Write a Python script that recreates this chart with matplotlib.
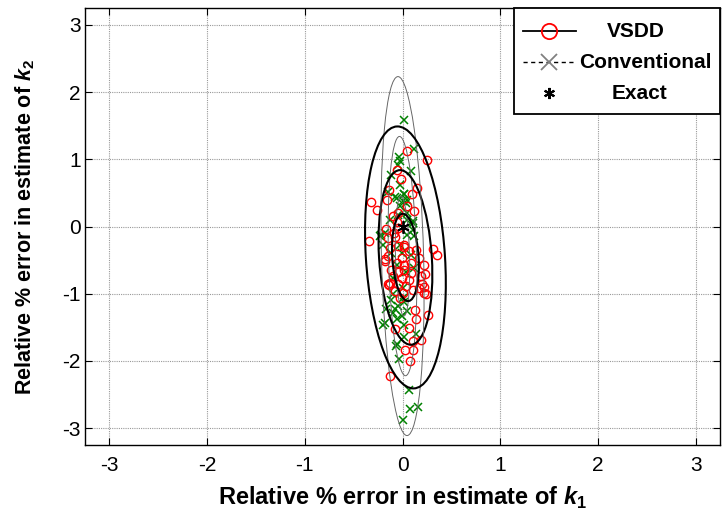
import matplotlib
matplotlib.use("Agg")
import matplotlib.pyplot as plt
from matplotlib.patches import Ellipse
from matplotlib.lines import Line2D

plt.rcParams["font.family"] = ["Liberation Sans", "DejaVu Sans"]
plt.rcParams["axes.unicode_minus"] = False
plt.rcParams["mathtext.fontset"] = "custom"
plt.rcParams["mathtext.rm"] = "Liberation Sans:bold"
plt.rcParams["mathtext.bf"] = "Liberation Sans:bold"
plt.rcParams["mathtext.bfit"] = "Liberation Sans:italic:bold"

# ---------------------------------------------------------------------------
# data
# ---------------------------------------------------------------------------
vsdd_x = [0.05, 0.25, -0.06, -0.02, -0.14, -0.16, 0.15, 0.10, -0.32, -0.26,
          0.12, -0.34, 0.31, 0.35, 0.22, 0.23, 0.20, -0.15, 0.22, -0.13,
          -0.18, -0.14, 0.22, 0.24, 0.13, 0.14, 0.26, -0.08, 0.07, 0.11,
          0.19, 0.03, 0.11, 0.08, -0.13, 0.05, -0.05, -0.10, -0.06, -0.17,
          -0.15, -0.05, 0.02, 0.07, 0.14, 0.17, -0.01, -0.06, 0.02, 0.09,
          -0.18, -0.08, -0.05, -0.15, -0.12, -0.05, 0.02, 0.09, -0.10, -0.01,
          0.07, -0.13, -0.05, 0.04, -0.08, 0.00, 0.11, -0.03, 0.19, 0.17,
          0.02, -0.09]
vsdd_y = [1.12, 0.99, 0.84, 0.70, 0.54, 0.40, 0.58, 0.49, 0.36, 0.25,
          0.23, -0.21, -0.33, -0.42, -0.57, -0.71, -0.86, -0.86, -0.99, -0.32,
          -0.49, -0.87, -0.90, -1.01, -1.24, -1.37, -1.31, -1.53, -1.51, -1.70,
          -1.69, -1.83, -1.84, -2.00, -2.22, 0.30, 0.20, 0.16, 0.06, -0.04,
          -0.44, -0.29, -0.27, -0.37, -0.35, -0.47, -0.47, -0.54, -0.57, -0.54,
          -0.52, -0.15, -0.02, -0.17, -0.64, -0.67, -0.64, -0.69, -0.73, -0.76,
          -0.79, -0.84, -0.86, -0.88, -0.96, -0.99, -0.94, -1.06, -0.73, -0.91,
          -0.30, -0.10]

conv_x = [0.02, -0.04, -0.03, -0.05, 0.09, -0.12, 0.12, -0.03, 0.02, -0.08,
          0.00, 0.04, 0.05, 0.11, -0.22, 0.11, -0.03, -0.15, 0.02, -0.06,
          0.05, -0.13, 0.05, 0.11, -0.18, -0.23, 0.05, 0.12, -0.20, -0.12,
          -0.01, -0.05, -0.03, 0.09, -0.06, 0.04, 0.12, -0.10, 0.00, -0.12,
          -0.05, 0.02, -0.10, -0.01, 0.05, -0.06, -0.20, 0.02, 0.14, -0.17,
          -0.06, -0.04, -0.18, 0.07, 0.08, 0.16, 0.01, -0.10, 0.00, 0.02,
          -0.08, -0.07]
conv_y = [1.58, 1.04, 0.97, 0.91, 0.82, 0.77, 1.16, 0.62, 0.49, 0.44,
          0.38, 0.35, 0.20, 0.08, -0.12, -0.05, 0.30, 0.52, 0.49, 0.42,
          0.40, 0.10, 0.10, 0.05, -0.10, -0.14, -0.12, -0.14, -0.27, -0.39,
          -0.39, 0.17, -0.27, -0.42, -0.57, -0.67, -0.62, -0.76, -0.91, -1.10,
          -1.18, -1.13, -1.28, -1.33, -1.26, -1.38, -1.46, -1.46, -1.60, -1.23,
          -1.75, -1.97, -1.44, -2.43, -2.72, -2.68, -2.88, -1.01, -1.06, -1.65,
          -1.22, -1.78]

exact_x = [0.0]
exact_y = [0.0]

# confidence ellipses: centre, semi-axes (x, y) for 1 sigma, tilt (deg)
vsdd_centre = (0.03, -0.46)
vsdd_sigma = (0.135, 0.65)
vsdd_tilt = 2.5
conv_centre = (0.0, -0.44)
conv_sigma = (0.072, 0.89)
conv_tilt = 1.0
levels = [1, 2, 3]

ticks = [-3, -2, -1, 0, 1, 2, 3]
asterisk = (6, 2, 0)

# ---------------------------------------------------------------------------
fig = plt.figure(figsize=(7.22, 5.12), dpi=100)
ax = fig.add_axes([85 / 722, 1 - 445 / 512, 635 / 722, 437 / 512])

ax.plot(conv_x, conv_y, "x", color="#008000", ms=5.5, mew=1.1, zorder=3)
ax.plot(vsdd_x, vsdd_y, "o", mfc="none", mec="red", ms=6, mew=1.0, zorder=3)

for k in levels:
    ax.add_patch(Ellipse(conv_centre, 2 * k * conv_sigma[0], 2 * k * conv_sigma[1],
                         angle=conv_tilt, fill=False, ec="0.4", lw=0.7, zorder=4))
    ax.add_patch(Ellipse(vsdd_centre, 2 * k * vsdd_sigma[0], 2 * k * vsdd_sigma[1],
                         angle=vsdd_tilt, fill=False, ec="black", lw=1.5, zorder=4))

ax.plot(exact_x, exact_y, marker=asterisk, ls="none", color="black", ms=9,
        mew=1.3, zorder=5)

ax.set_xlim(-3.25, 3.25)
ax.set_ylim(-3.25, 3.25)
ax.set_xticks(ticks)
ax.set_yticks(ticks)
ax.tick_params(direction="in", top=True, right=True, length=5, width=0.8,
               labelsize=15)
ax.tick_params(axis="x", pad=8)
ax.tick_params(axis="y", pad=3)
ax.grid(True, color="0.6", ls=(0, (1, 1)), lw=0.8)
ax.set_axisbelow(True)
for s in ax.spines.values():
    s.set_linewidth(1.0)

ax.set_xlabel(r"Relative % error in estimate of $\mathbfit{k}_{\mathbf{1}}$",
              fontsize=17, fontweight="bold", labelpad=7)
ax.set_ylabel(r"Relative % error in estimate of $\mathbfit{k}_{\mathbf{2}}$",
              fontsize=15.5, fontweight="bold")
ax.yaxis.set_label_coords(-0.075, 0.5)

handles = [
    Line2D([], [], color="black", lw=1.3, marker="o", mfc="none", mec="red",
           ms=11, mew=1.3),
    Line2D([], [], color="black", lw=1.0, ls=(0, (3, 2.5)), marker="x",
           mec="0.5", ms=12, mew=1.3),
    Line2D([], [], ls="none", marker=asterisk, mec="black", mfc="black",
           ms=8, mew=1.5),
]
leg = ax.legend(handles, ["VSDD", "Conventional", "Exact"], loc="upper right",
                borderaxespad=0, fancybox=False, edgecolor="black",
                framealpha=1, handlelength=2.55, handleheight=1.55,
                handletextpad=0.15, labelspacing=0.25, borderpad=0.42,
                prop={"weight": "bold", "size": 15})
leg.get_frame().set_linewidth(1.3)
leg.set_zorder(10)
shifts = [28, 0, 33]
for t, dx in zip(leg.get_texts(), shifts):
    t.set_position((dx, 0))
# line the handle symbols up with the middle of the label text
for h in leg.legend_handles:
    h.set_ydata([y - 3 for y in h.get_ydata()])

fig.savefig("out.png", dpi=100)
